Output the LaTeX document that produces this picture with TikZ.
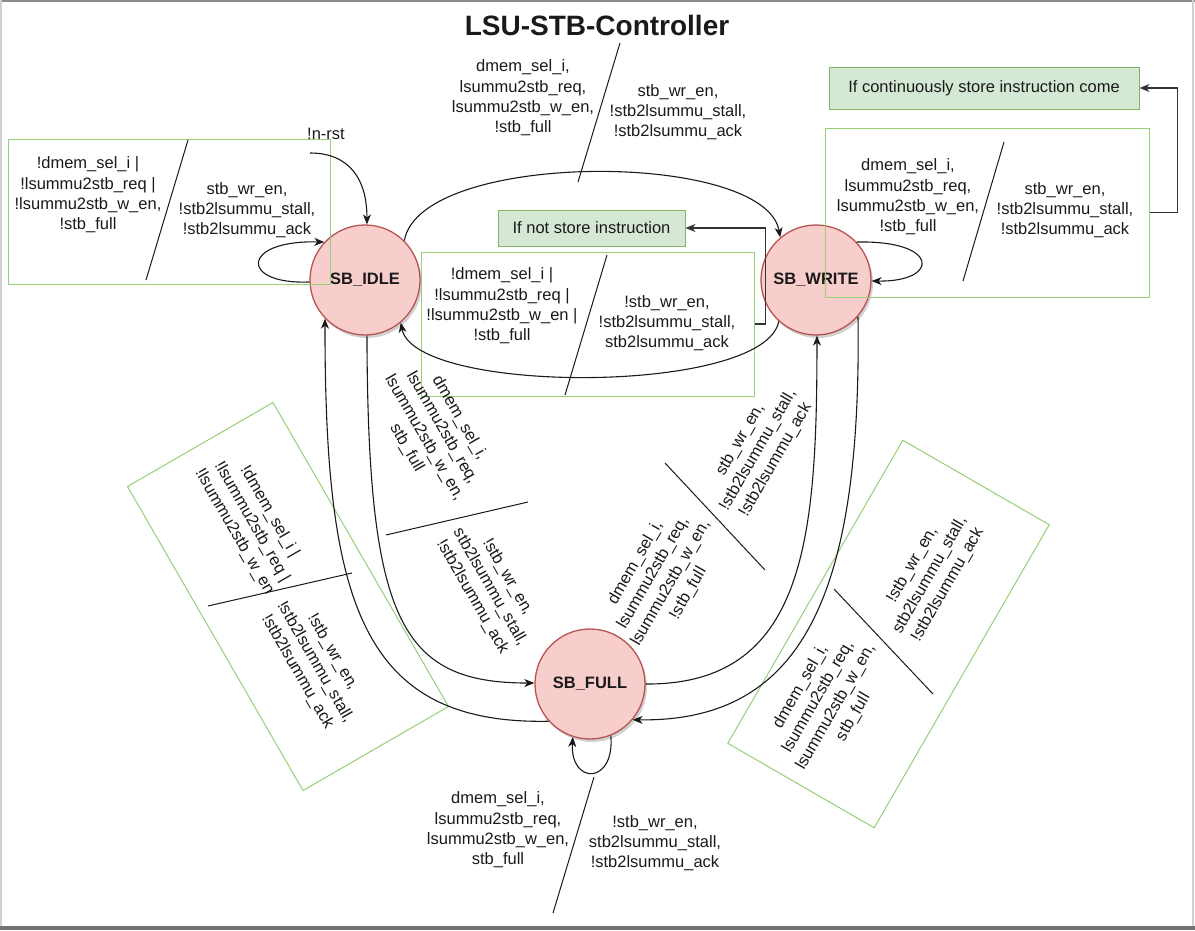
\documentclass[tikz,border=0pt]{standalone}
\usepackage{fontspec}
\setmainfont{Liberation Sans}
\usetikzlibrary{arrows.meta,shadows}
\definecolor{stfill}{HTML}{F8CECC}
\definecolor{stdraw}{HTML}{B85450}
\definecolor{gfill}{HTML}{D5E8D4}
\definecolor{gdraw}{HTML}{82B366}
\definecolor{lgreen}{HTML}{97D077}
\definecolor{txt}{HTML}{1A1A1A}
\begin{document}
\begin{tikzpicture}[x=1pt,y=1pt,
  state/.style={circle, fill=stfill, draw=stdraw, line width=1.3pt, minimum size=110pt, inner sep=0pt,
    font=\fontsize{16.5}{20}\selectfont\bfseries, text=txt,
    drop shadow={shadow xshift=2pt, shadow yshift=-3pt, opacity=0.18, fill=black}},
  lbl/.style={font=\fontsize{16.5}{20.3}\selectfont, align=center, inner sep=0pt, text=txt},
  lblbox/.style={draw=lgreen, line width=1pt, inner sep=0pt},
  notebox/.style={draw=gdraw, fill=gfill, line width=1pt, font=\fontsize{16.5}{20}\selectfont, text=txt, inner sep=0pt},
  trans/.style={line width=1.1pt, draw=txt, -{Stealth[length=10pt,width=8pt,inset=3pt]}},
  note/.style={line width=1.4pt, draw=black!80, -{Stealth[length=10pt,width=8pt,inset=3pt]}},
  slash/.style={line width=1pt, draw=txt},
]
\useasboundingbox (0,0) rectangle (1195,-930);
\fill[white] (0,0) rectangle (1195,-930);
% frame
\draw[line width=2pt, color=black!45] (0,-1) -- (1195,-1);
\draw[line width=1.5pt, color=black!18] (0.75,0) -- (0.75,-930);
\draw[line width=1.5pt, color=black!18] (1193,0) -- (1193,-930);
\draw[line width=4pt, color=black!55] (0,-928) -- (1195,-928);

% title
\node[font=\fontsize{28}{32}\selectfont\bfseries, text=txt] (title) at (597,-25) {LSU-STB-Controller};

% states
\node[state] (idle) at (365,-280) {SB\_IDLE};
\node[state] (write) at (816,-280) {SB\_WRITE};
\node[state] (full) at (590,-684) {SB\_FULL};

% label boxes
\node[lblbox, minimum width=322, minimum height=145] (tlbox) at (169,-211.5) {};
\node[lblbox, minimum width=324, minimum height=169] (trbox) at (987,-212.5) {};
\node[lblbox, minimum width=333, minimum height=144] (midbox) at (587.5,-324) {};
\node[lblbox, rotate=-60, minimum width=351, minimum height=168] (lbox) at (288,-596.5) {};
\node[lblbox, rotate=60, minimum width=350, minimum height=169] (rbox) at (888.5,-634) {};

% note boxes
\node[notebox, minimum width=310, minimum height=42] (contbox) at (984,-88) {If continuously store instruction come};
\node[notebox, minimum width=187, minimum height=36] (notstore) at (591.5,-228) {If not store instruction};

% transitions
\coordinate (init) at (310,-153);
\node[lbl] (rst) at (326,-134) {!n-rst};
\draw[trans] (init) .. controls (350,-153) and (367,-180) .. (idle.88);
\draw[trans] (idle.182) .. controls (240,-285) and (240,-240) .. (idle.137);
\draw[trans] (idle.45) .. controls (420,-150) and (765,-150) .. (write.130);
\draw[trans] (write.228) .. controls (765,-395) and (415,-395) .. (idle.-50);
\draw[trans] (idle.-88) .. controls (368,-620) and (400,-683) .. (full.179);
\draw[trans] (full.222) .. controls (360,-725) and (325,-600) .. (idle.224);
\draw[trans] (full.0) .. controls (805,-685) and (817,-540) .. (write.-89);
\draw[trans] (write.-41) .. controls (862,-600) and (800,-722) .. (full.-40);
\draw[trans] (write.43) .. controls (940,-240) and (940,-282) .. (write.-1);
\draw[trans] (full.-68) .. controls (615,-785) and (570,-785) .. (full.-108);
\draw[note] (trbox.east) -- ++(28,0) |- (contbox.east);
\draw[note] (midbox.east) -- ++(11,0) |- (notstore.east);

% slashes
\draw[slash] (188,-140) -- (146,-280);
\draw[slash] (620,-43) -- (578,-182);
\draw[slash] (1004,-142) -- (963,-281);
\draw[slash] (607,-255) -- (565,-395);
\draw[slash] (208,-606) -- (352,-573);
\draw[slash] (386,-535) -- (528,-502);
\draw[slash] (665,-463) -- (765,-570);
\draw[slash] (834,-589) -- (933,-694);
\draw[slash] (594,-777) -- (553,-913);

% labels: top-left
\node[lbl] (tlL) at (88,-195) {!dmem\_sel\_i |\\!lsummu2stb\_req |\\!lsummu2stb\_w\_en,\\!stb\_full};
\node[lbl] (tlR) at (247,-210) {stb\_wr\_en,\\!stb2lsummu\_stall,\\!stb2lsummu\_ack};
% top centre
\node[lbl] (tcL) at (523,-98) {dmem\_sel\_i,\\lsummu2stb\_req,\\lsummu2stb\_w\_en,\\!stb\_full};
\node[lbl] (tcR) at (678,-112) {stb\_wr\_en,\\!stb2lsummu\_stall,\\!stb2lsummu\_ack};
% top right
\node[lbl] (trL) at (908,-197) {dmem\_sel\_i,\\lsummu2stb\_req,\\lsummu2stb\_w\_en,\\!stb\_full};
\node[lbl] (trR) at (1065,-210) {stb\_wr\_en,\\!stb2lsummu\_stall,\\!stb2lsummu\_ack};
% middle
\node[lbl] (mL) at (502,-306) {!dmem\_sel\_i |\\!lsummu2stb\_req |\\!lsummu2stb\_w\_en |\\!stb\_full};
\node[lbl] (mR) at (667,-323) {!stb\_wr\_en,\\!stb2lsummu\_stall,\\stb2lsummu\_ack};
% left rotated
\node[lbl, rotate=-60] (lU) at (252,-522) {!dmem\_sel\_i |\\!lsummu2stb\_req |\\!lsummu2stb\_w\_en};
\node[lbl, rotate=-60] (lD) at (315,-662) {!stb\_wr\_en,\\!stb2lsummu\_stall,\\!stb2lsummu\_ack};
% idle -> full
\node[lbl, rotate=-60] (ifU) at (433,-433) {dmem\_sel\_i,\\lsummu2stb\_req,\\lsummu2stb\_w\_en,\\stb\_full};
\node[lbl, rotate=-60] (ifD) at (490,-587) {!stb\_wr\_en,\\stb2lsummu\_stall,\\!stb2lsummu\_ack};
% full -> write
\node[lbl, rotate=60] (fwU) at (758,-450) {stb\_wr\_en,\\!stb2lsummu\_stall,\\!stb2lsummu\_ack};
\node[lbl, rotate=60] (fwD) at (662,-578) {dmem\_sel\_i,\\lsummu2stb\_req,\\lsummu2stb\_w\_en,\\!stb\_full};
% right rotated
\node[lbl, rotate=60] (rU) at (930,-575) {!stb\_wr\_en,\\stb2lsummu\_stall,\\!stb2lsummu\_ack};
\node[lbl, rotate=60] (rD) at (827,-702) {dmem\_sel\_i,\\lsummu2stb\_req,\\lsummu2stb\_w\_en,\\stb\_full};
% bottom
\node[lbl] (bL) at (498,-830) {dmem\_sel\_i,\\lsummu2stb\_req,\\lsummu2stb\_w\_en,\\stb\_full};
\node[lbl] (bR) at (655,-843) {!stb\_wr\_en,\\stb2lsummu\_stall,\\!stb2lsummu\_ack};
\end{tikzpicture}
\end{document}
